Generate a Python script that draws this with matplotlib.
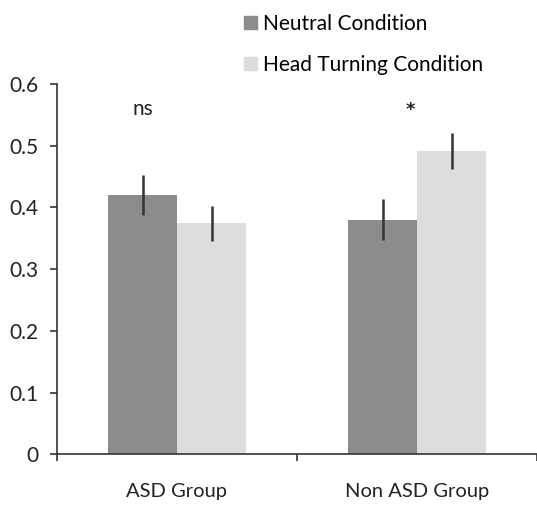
import numpy as np
import matplotlib
matplotlib.use("Agg")
import matplotlib.pyplot as plt
from matplotlib.patches import Patch

plt.rcParams['font.family'] = ['Lato', 'DejaVu Sans']

groups = ['ASD Group', 'Non ASD Group']
conditions = ['Neutral Condition', 'Head Turning Condition']
neutral = [0.420, 0.380]
head_turning = [0.374, 0.492]
neutral_err = [0.033, 0.033]
head_err = [0.029, 0.029]
sig_labels = ['ns', '*']

fig = plt.figure(figsize=(5.37, 5.05), dpi=100)
ax = fig.add_axes([57/537, 1 - 454.3/505, 480/537, (454.3-84)/505])

x = np.arange(len(groups)) + 0.5
w = 0.2875
ax.bar(x - w/2, neutral, w, color='#8c8c8c', label=conditions[0])
ax.bar(x + w/2, head_turning, w, color='#dddddd', label=conditions[1])
ax.errorbar(x - w/2, neutral, yerr=neutral_err, fmt='none', ecolor='#333333', elinewidth=1.8, capsize=0)
ax.errorbar(x + w/2, head_turning, yerr=head_err, fmt='none', ecolor='#333333', elinewidth=1.8, capsize=0)

# significance marks
ax.text(x[0] - w/2, 0.56, sig_labels[0], ha='center', va='center', fontsize=15, color='#222222')
ax.text(x[1] - 0.028, 0.558, sig_labels[1], ha='center', va='center', fontsize=13,
        fontweight='bold', family='DejaVu Sans', color='#222222')

ax.set_xlim(0, 2)
ax.set_ylim(0, 0.6)
ax.set_yticks(np.arange(0, 0.61, 0.1))
ax.set_yticklabels(['0', '0.1', '0.2', '0.3', '0.4', '0.5', '0.6'])
ax.set_xticks([0, 1, 2])
ax.set_xticklabels([])
ax.set_xticks(x, minor=True)
ax.set_xticklabels(groups, minor=True)
ax.tick_params(axis='x', which='minor', length=0, pad=21, labelsize=14.5, labelcolor='#222222')
ax.tick_params(axis='x', which='major', length=5, width=1.2, color='#333333')
ax.tick_params(axis='y', length=5, width=1.2, color='#333333', labelsize=15, labelcolor='#222222', pad=8)

for s in ['top', 'right']:
    ax.spines[s].set_visible(False)
for s in ['left', 'bottom']:
    ax.spines[s].set_color('#333333')
    ax.spines[s].set_linewidth(1.2)

handles = [Patch(color='#8c8c8c'), Patch(color='#dddddd')]
fig.legend(handles, conditions, loc='upper left', bbox_to_anchor=(244/537, 1 - 14/505),
           frameon=False, fontsize=15, handlelength=0.6, handleheight=0.6,
           handletextpad=0.3, labelspacing=1.0, borderpad=0, borderaxespad=0)

fig.savefig('out.png', dpi=100)
